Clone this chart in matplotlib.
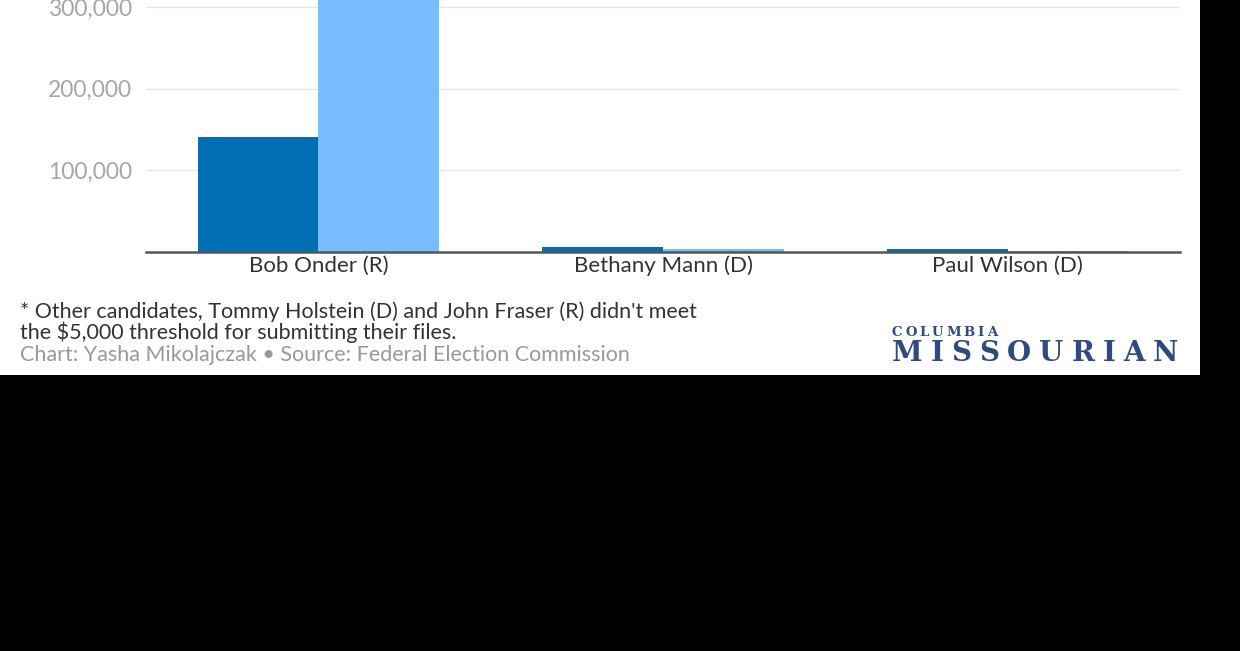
import matplotlib.pyplot as plt
from matplotlib.patches import Rectangle
import numpy as np

candidates = ['Bob Onder (R)', 'Bethany Mann (D)', 'Paul Wilson (D)']
series_a = [140500, 5500, 2800]
series_b = [390000, 2800, 600]
yticks = [100000, 200000, 300000]
ytick_labels = ['100,000', '200,000', '300,000']

dark = '#006fb3'
light = '#78bdfd'

W, H = 1240, 651
fig = plt.figure(figsize=(W / 100, H / 100), dpi=100)
fig.patch.set_facecolor('black')
fig.add_artist(Rectangle((0, 1 - 375 / H), 1200 / W, 375 / H,
                         transform=fig.transFigure, facecolor='white',
                         edgecolor='none', zorder=0))

ax = fig.add_axes([146 / W, 1 - 251.5 / H, (1180 - 146) / W, 251.5 / H])
ax.set_facecolor('none')

x = np.arange(len(candidates))
w = 0.35
ax.bar(x - w / 2, series_a, width=w, color=dark, zorder=3)
ax.bar(x + w / 2, series_b, width=w, color=light, zorder=3)

ax.set_xlim(-0.5, 2.5)
ax.set_ylim(0, 308600)
ax.set_yticks(yticks)
ax.set_yticklabels(ytick_labels)
ax.set_xticks(x)
ax.set_xticklabels(candidates)
ax.grid(axis='y', color='#e6e6e6', linewidth=1, zorder=0)
ax.set_axisbelow(True)
for s in ['top', 'right', 'left']:
    ax.spines[s].set_visible(False)
ax.spines['bottom'].set_color('#555555')
ax.spines['bottom'].set_linewidth(1.8)
ax.spines['bottom'].set_zorder(4)
ax.tick_params(axis='y', length=0, pad=10, labelsize=16.5, labelcolor='#a6a6a6')
ax.tick_params(axis='x', length=0, pad=3, labelsize=16, labelcolor='#333333')
for t in ax.get_yticklabels() + ax.get_xticklabels():
    t.set_fontfamily('Lato')

fig.text(20 / W, 1 - 339 / H,
         "* Other candidates, Tommy Holstein (D) and John Fraser (R) didn't meet\n"
         "the $5,000 threshold for submitting their files.",
         fontsize=15.5, color='#333333', family='Lato', va='baseline',
         linespacing=0.95)
fig.text(20 / W, 1 - 361 / H,
         "Chart: Yasha Mikolajczak \u2022 Source: Federal Election Commission",
         fontsize=15.5, color='#999999', family='Lato', va='baseline')


def spaced_text(x0, x1, y, s, **kw):
    # spread letters so the word spans x0..x1 pixels
    renderer = fig.canvas.get_renderer()
    widths = []
    for ch in s:
        t = fig.text(0, 0, ch, **kw)
        widths.append(t.get_window_extent(renderer).width)
        t.remove()
    gap = (x1 - x0 - sum(widths)) / (len(s) - 1)
    pos = x0
    for ch, cw in zip(s, widths):
        fig.text(pos / W, 1 - y / H, ch, va='baseline', **kw)
        pos += cw + gap


logo = dict(color='#2e4a7f', family='DejaVu Serif', weight='bold')
spaced_text(892, 997, 336, 'COLUMBIA', fontsize=9.5, **logo)
spaced_text(892, 1178, 361, 'MISSOURIAN', fontsize=20, **logo)

fig.savefig('out.png', dpi=100, facecolor=fig.get_facecolor())
